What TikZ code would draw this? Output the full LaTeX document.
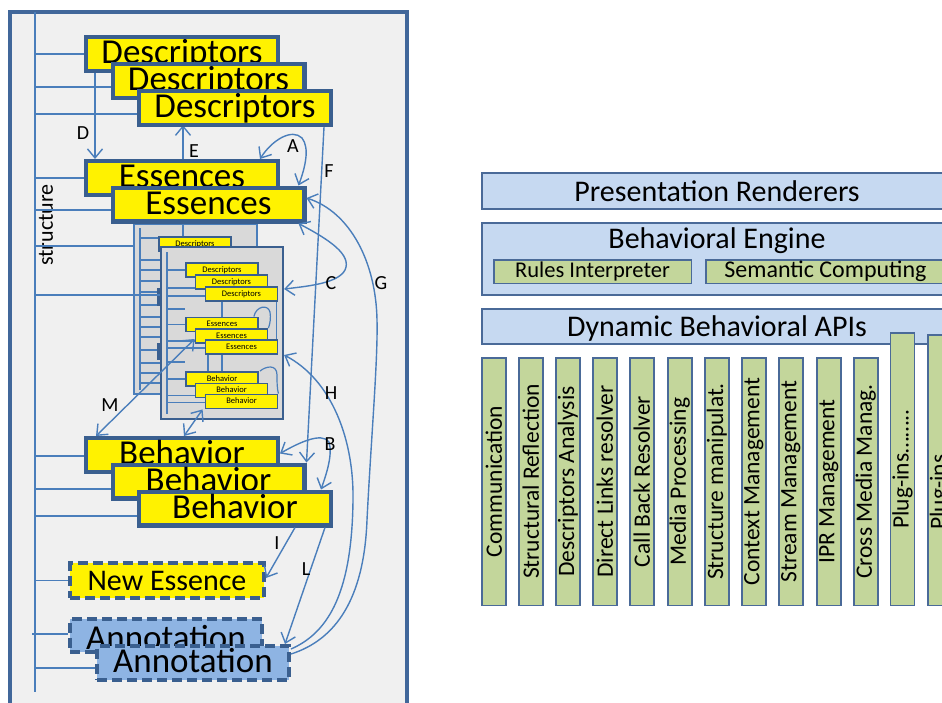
\documentclass[tikz,border=0pt]{standalone}
\usepackage{fontspec}
\setmainfont{Carlito}
\usetikzlibrary{arrows.meta,calc}
\definecolor{frameblue}{HTML}{41679A}
\definecolor{boxblue}{HTML}{3A5F8F}
\definecolor{linkblue}{HTML}{4A7EBB}
\definecolor{panelgray}{HTML}{F0F0F0}
\definecolor{innergray}{HTML}{D9D9D9}
\definecolor{annoblue}{HTML}{8EB4E3}
\definecolor{barblue}{HTML}{C6D9F1}
\definecolor{bargreen}{HTML}{C3D69B}
\definecolor{barline}{HTML}{4A6A98}
\begin{document}
\begin{tikzpicture}[x=1pt,y=-1pt,
  link/.style={draw=linkblue,line width=1.4pt},
  tipv/.style={-{Straight Barb[length=9pt,width=15pt]}},
  tipvv/.style={{Straight Barb[length=9pt,width=15pt]}-{Straight Barb[length=9pt,width=15pt]}},
  ybox/.style={draw=boxblue,line width=4.2pt,fill=yellow,minimum width=191.8pt,
    minimum height=33.8pt,inner sep=0pt,font=\fontsize{35}{35}\selectfont,
    text height=22pt,text depth=3pt},
  dbox/.style={ybox,dash pattern=on 10pt off 5pt},
  mbox/.style={draw=boxblue,line width=1.8pt,fill=yellow,minimum width=72pt,
    minimum height=14pt,inner sep=0pt,font=\fontsize{8.5}{8.5}\selectfont,
    text height=5.5pt,text depth=1.5pt},
  lab/.style={font=\fontsize{20}{20}\selectfont,inner sep=0pt},
  bar/.style={draw=barline,line width=2pt,fill=barblue,minimum width=470pt,inner sep=0pt},
  bartitle/.style={font=\fontsize{30}{30}\selectfont,inner sep=0pt},
  sub/.style={draw=barline,line width=1.5pt,fill=bargreen,minimum height=23.5pt,inner sep=0pt,
    font=\fontsize{22.5}{22.5}\selectfont},
  api/.style={draw=barline,line width=1.5pt,fill=bargreen,minimum width=24pt,inner sep=0pt},
  apitext/.style={rotate=90,font=\fontsize{23.5}{23.5}\selectfont,inner sep=0pt}
]
\clip (0,0) rectangle (942,702);
\fill[white] (0,0) rectangle (942,702);

% ---------- left panel: the structure of a content object ----------
\draw[frameblue,line width=3.2pt,fill=panelgray] (10,12) rectangle (407,740);
\coordinate (st) at (35,12);
\coordinate (stEnd) at (35,692);
\draw[link] (st) -- (stEnd);
\node[lab,rotate=90,font=\fontsize{22}{22}\selectfont] (structlab) at (46,225) {structure};

% back copy of the nested object
\node[draw=linkblue,line width=1.6pt,fill=innergray,minimum width=123.5pt,minimum height=170.5pt,
  inner sep=0pt] (back) at (195.5,309) {};
\coordinate (bs) at (140,228);
\coordinate (bsEnd) at (140,390);
\draw[link] (bs) -- (bsEnd);
\foreach \y in {238,260,270,281,292,305,317,327,337,350,363,373,383}
  \draw[link] (140,\y) -- (160,\y);
\node[mbox] (bD) at (195,244) {Descriptors};
\fill[boxblue] (157,288) rectangle (161,306);
\fill[boxblue] (157,343) rectangle (161,360);

% front copy of the nested object
\node[draw=boxblue,line width=2.2pt,fill=innergray,minimum width=122pt,minimum height=172pt,
  inner sep=0pt] (front) at (222,333) {};
\coordinate (fs) at (167,252);
\coordinate (fsEnd) at (167,414);
\draw[link] (fs) -- (fsEnd);
\foreach \y in {309,362}
  \draw[link] (167,\y) -- (185,\y);

% links inside the nested object (behind its boxes)
\coordinate (vA) at (222,302);
\coordinate (vAEnd) at (222,394);
\draw[link] (vA) -- (vAEnd);
\coordinate (vB) at (208,354);
\coordinate (vBEnd) at (208,372);
\draw[link] (vB) -- (vBEnd);

\node[mbox] (mD1) at (222,270) {Descriptors};
\node[mbox] (mD2) at (231.5,282) {Descriptors};
\node[mbox] (mD3) at (241.5,294) {Descriptors};
\node[mbox] (mE1) at (222,324.5) {Essences};
\node[mbox] (mE2) at (231.5,336) {Essences};
\node[mbox] (mE3) at (241.5,347) {Essences};
\node[mbox] (mB1) at (222,379) {Behavior};
\node[mbox] (mB2) at (231.5,390.5) {Behavior};
\node[mbox] (mB3) at (241.5,401.5) {Behavior};

% ticks of the nested structure line
\foreach \n/\s in {mD1/0,mD2/-6,mD3/-2,mE1/0,mE2/-5,mE3/-1,mB1/0,mB2/-5,mB3/-1}{
  \path ([yshift=\s pt]\n.west) coordinate (tk);
  \draw[link] (fs |- tk) -- (tk);
}

\draw[link] ([xshift=-1.75pt]mD3.south east) -- ([xshift=-1.75pt]mE3.north east);
\draw[link,line width=1.2pt] ([xshift=-5pt]mE1.north east) .. controls (256,306) and (268,304) ..
  (270,312) .. controls (271,318) and (270,324) .. (mE2.north east);
\draw[link,line width=1.2pt] ([xshift=1pt]mB1.north east) .. controls (266,366) and (277,364) ..
  (277,375) .. controls (277,382) and (277,388) .. (mB3.north east);

% ---------- big boxes ----------
% link that runs behind the boxes
\draw[link,tipv] ([xshift=-12pt]bD.north) -- (183,125.25);

\node[ybox] (D1) at (182,54) {Descriptors};
\node[ybox] (D2) at (208.5,81) {Descriptors};
\node[ybox] (D3) at (235,108) {Descriptors};
\node[ybox] (E1) at (182,178) {Essences};
\node[ybox] (E2) at (208.5,204.5) {Essences};
\node[ybox] (B1) at (182,455) {Behavior};
\node[ybox] (B2) at (208.5,481.5) {Behavior};
\node[ybox] (B3) at (235,508.5) {Behavior};
\node[dbox,minimum width=193.8pt,minimum height=34.8pt,font=\fontsize{30}{30}\selectfont]
  (NE) at (167,580.5) {New Essence};
\node[dbox,fill=annoblue,minimum height=32.8pt] (A1) at (166,635.5) {};
\node[font=\fontsize{35}{35}\selectfont,anchor=base,inner sep=0pt] (A1t) at (166,649) {Annotation};
\node[dbox,fill=annoblue] (A2) at (193,663) {Annotation};

% structure lines to the big boxes and to the nested copies
\foreach \n/\s in {D1/0,D2/-6,D3/-6,E1/0,E2/-5.5,B1/-1,B2/-7.5,B3/-7.5,NE/0,A2/-5,back/63,front/38}{
  \path ([yshift=\s pt]\n.west) coordinate (tk);
  \draw[link] (st |- tk) -- (tk);
}
\path ([yshift=1.5pt]A1.west) coordinate (tkA);
\draw[link] ([xshift=-3pt]st |- tkA) -- (tkA);

% ---------- links between the parts ----------
% D
\draw[link,tipv] ([xshift=11pt]D1.south west) -- ([xshift=11pt]E1.north west);
% F
\draw[link,tipv] ([xshift=-9pt]D3.south east) -- (B2.north east);
% A
\draw[link,tipvv] ([xshift=-20pt]E1.north east) .. controls (272,140) and (292,128) ..
  (302,138) .. controls (310,148) and (305,168) .. ([xshift=-8pt]E2.north east);
% C
\draw[link,tipvv] ([xshift=-8pt]E2.south east) .. controls (330,240) and (352,255) ..
  (345,270) .. controls (338,283) and (310,286) .. ([yshift=44pt]front.east);
% G
\draw[link,tipv] ([yshift=9pt]A2.east) .. controls (335,640) and (364,600) ..
  (367,520) .. controls (371,440) and (378,360) .. (377,320) .. controls (376,262) and (350,212) ..
  ([yshift=6.5pt]E2.east);
% H
\draw[link,tipv] ([yshift=14pt]A2.east) .. controls (330,632) and (352,590) ..
  (353,500) .. controls (354,440) and (332,380) .. ([yshift=-22pt]front.east);
% B
\draw[link,tipvv] ([yshift=1.5pt]B1.east) .. controls (300,442) and (322,432) ..
  (329,442) .. controls (333,455) and (326,475) .. ([xshift=-12pt]B3.north east);
% I and L
\draw[link,tipv] ([xshift=-38pt]B3.south east) -- ([yshift=2.5pt]NE.east);
\draw[link,tipv] ([xshift=-8pt]B3.south east) -- ([xshift=-6pt]A2.north east);
% M and the link from the nested behaviours
\draw[link,tipvv] ([yshift=-3pt]mE2.west) -- ([xshift=12pt]B1.north west);
\draw[link,tipvv] ([xshift=-2pt]mB3.south west) -- ([xshift=100pt]B1.north west);

% link labels
\node[lab] (lD) at (83,133) {D};
\node[lab] (lE) at (194,151) {E};
\node[lab] (lA) at (293,146) {A};
\node[lab] (lF) at (329,171) {F};
\node[lab] (lC) at (331,283) {C};
\node[lab] (lG) at (381,283) {G};
\node[lab] (lH) at (331,393) {H};
\node[lab] (lM) at (110,405) {M};
\node[lab] (lB) at (330,444) {B};
\node[lab] (lI) at (277,543) {I};
\node[lab] (lL) at (306,569) {L};

% ---------- right panel: the behavioural layers ----------
\node[bar,minimum height=36pt] (PR) at (717,191) {};
\node[bartitle] (PRt) at (717,191) {Presentation Renderers};
\node[bar,minimum height=72pt] (BE) at (717,259) {};
\node[bartitle] (BEt) at (717,241) {Behavioral Engine};
\node[sub,minimum width=197.5pt] (RI) at (592.5,271.5) {Rules Interpreter};
\node[sub,minimum width=239.5pt,font=\fontsize{24}{24}\selectfont] (SC) at (825.5,271.5) {Semantic Computing};
\node[bar,minimum height=35pt] (API) at (717,326.5) {};
\node[bartitle] (APIt) at (717,328) {Dynamic Behavioral APIs};

\foreach \i/\x/\t in {1/481/Communication,2/518/Structural Reflection,3/555/Descriptors Analysis,
  4/592/Direct Links resolver,5/629/Call Back Resolver,6/667/Media Processing,
  7/704/Structure manipulat.,8/741/Context Management,9/778/Stream Management,
  10/816/IPR Management,11/853/Cross Media Manag.}{
  \node[api,minimum height=247.5pt] (m\i) at (\x+12.75,481.5) {};
  \node[apitext] at (m\i.center) {\t};
}
\node[api,minimum height=272.5pt] (p1) at (902.5,469) {};
\node[apitext] at (p1.center) {Plug-ins……..};
\node[api,minimum height=270.5pt] (p2) at (940,470) {};
\node[apitext] at (p2.center) {Plug-ins……..};
\end{tikzpicture}
\end{document}
